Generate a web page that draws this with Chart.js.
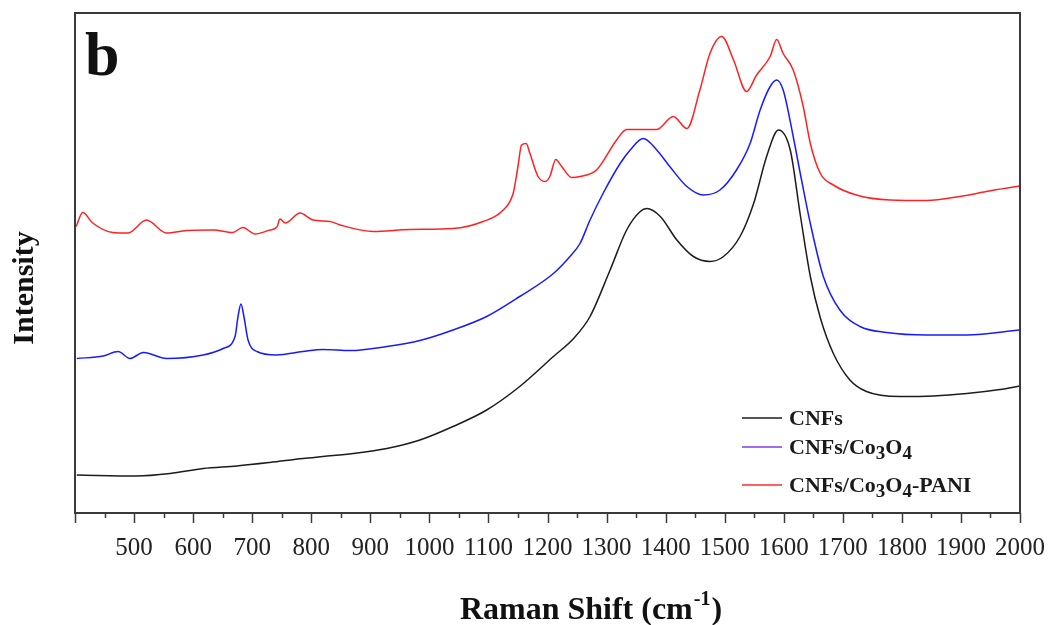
<!DOCTYPE html>
<html>
<head>
<meta charset="utf-8">
<script src="https://cdn.jsdelivr.net/npm/chart.js@4.4.1/dist/chart.umd.min.js"></script>
<style>
  body { margin: 0; background: #fff; }
  canvas { display: block; }
</style>
</head>
<body>
<canvas id="raman" width="1048" height="625"></canvas>
<script>
// Raman shift (cm-1) / intensity (a.u.)
const cnfShift = [403, 504, 561, 617, 674, 730, 786, 820, 871, 928, 984, 1040, 1097, 1153, 1210, 1245, 1272, 1306, 1334, 1357, 1368, 1391, 1419, 1447, 1475, 1498, 1526, 1549, 1571, 1591, 1611, 1628, 1645, 1662, 1684, 1712, 1740, 1797, 1853, 1910, 1966, 2000];
const cnfInt = [7.6, 7.4, 7.9, 8.9, 9.4, 10.1, 10.9, 11.3, 11.9, 12.9, 14.6, 17.3, 20.6, 25.3, 31.3, 35.0, 39.3, 48.6, 56.6, 60.3, 60.9, 59.3, 54.6, 51.3, 50.3, 51.3, 55.3, 61.9, 71.3, 76.6, 72.6, 59.6, 47.3, 39.0, 31.9, 26.6, 24.3, 23.3, 23.4, 23.9, 24.7, 25.4];

const coShift = [403, 448, 473, 493, 516, 555, 617, 651, 671, 676, 681, 686, 693, 708, 741, 786, 820, 866, 928, 984, 1040, 1097, 1153, 1210, 1238, 1255, 1272, 1294, 1323, 1340, 1362, 1385, 1407, 1436, 1464, 1492, 1520, 1543, 1560, 1577, 1588, 1599, 1616, 1628, 1645, 1667, 1695, 1729, 1774, 1842, 1910, 2000];
const coInt = [30.9, 31.4, 32.3, 30.9, 32.1, 30.9, 31.6, 32.9, 35.3, 39.3, 41.8, 39.3, 34.6, 32.3, 31.6, 32.3, 32.7, 32.5, 33.3, 34.5, 36.6, 39.3, 43.3, 47.9, 51.3, 53.9, 58.6, 63.9, 69.9, 72.6, 74.9, 72.6, 69.3, 65.3, 63.6, 64.6, 68.6, 73.9, 80.6, 85.3, 86.6, 84.6, 75.3, 67.9, 57.9, 47.3, 40.6, 37.3, 36.1, 35.6, 35.6, 36.6];

const paniShift = [402, 413, 430, 464, 490, 521, 555, 589, 634, 667, 684, 705, 730, 742, 747, 756, 781, 803, 832, 849, 905, 967, 1040, 1091, 1125, 1142, 1150, 1156, 1164, 1170, 1184, 1196, 1204, 1214, 1224, 1241, 1255, 1283, 1317, 1334, 1385, 1413, 1436, 1458, 1475, 1495, 1515, 1537, 1554, 1577, 1588, 1599, 1616, 1633, 1645, 1662, 1684, 1723, 1780, 1842, 1898, 1943, 2000];
const paniInt = [57.3, 60.1, 58.0, 56.1, 56.0, 58.6, 56.0, 56.5, 56.6, 56.1, 57.1, 55.8, 56.6, 57.2, 58.8, 58.0, 60.0, 58.6, 58.3, 57.6, 56.3, 56.7, 56.9, 58.3, 60.6, 64.0, 69.3, 73.6, 73.9, 72.0, 67.3, 66.3, 67.3, 70.7, 69.3, 67.1, 67.3, 68.6, 74.6, 76.7, 76.7, 79.3, 76.9, 84.6, 91.9, 95.3, 90.6, 84.3, 87.6, 91.3, 94.7, 91.9, 88.6, 81.3, 73.9, 67.9, 65.6, 63.6, 62.6, 62.5, 63.3, 64.3, 65.4];

const seriesNames = ["CNFs", "CNFs/Co3O4", "CNFs/Co3O4-PANI"];
const xTickMin = 400, xTickMax = 2000, xTickStep = 50;

const serif = '"Liberation Serif", "Times New Roman", serif';

function toPoints(xs, ys) {
  return xs.map((x, i) => ({ x: x, y: ys[i] }));
}

// frame, outward ticks (long major / short minor), panel letter, axis titles, legend
const decorations = {
  id: "decorations",
  afterDraw(chart) {
    const ctx = chart.ctx;
    const area = chart.chartArea;
    const xs = chart.scales.x;
    ctx.save();

    ctx.strokeStyle = "#3a3a3a";
    ctx.lineWidth = 2;
    ctx.strokeRect(area.left, area.top, area.right - area.left, area.bottom - area.top);

    ctx.lineWidth = 1.5;
    xs.ticks.forEach((t) => {
      const px = Math.round(xs.getPixelForValue(t.value)) + 0.5;
      const len = t.value % 100 === 0 ? 10 : 5;
      ctx.beginPath();
      ctx.moveTo(px, area.bottom);
      ctx.lineTo(px, area.bottom + len);
      ctx.stroke();
    });

    ctx.fillStyle = "#111";
    ctx.font = "bold 62px " + serif;
    ctx.textAlign = "left";
    ctx.textBaseline = "alphabetic";
    ctx.fillText("b", area.left + 10, area.top + 62);

    // x title with superscript
    ctx.font = "bold 32px " + serif;
    const t1 = "Raman Shift (cm";
    const w1 = ctx.measureText(t1).width;
    ctx.font = "bold 20px " + serif;
    const wSup = ctx.measureText("-1").width;
    ctx.font = "bold 32px " + serif;
    const w2 = ctx.measureText(")").width;
    let x0 = 590 - (w1 + wSup + w2) / 2;
    const base = 619;
    ctx.fillText(t1, x0, base);
    ctx.font = "bold 20px " + serif;
    ctx.fillText("-1", x0 + w1 + 1, base - 14);
    ctx.font = "bold 32px " + serif;
    ctx.fillText(")", x0 + w1 + wSup + 2, base);

    // y title
    ctx.save();
    ctx.translate(33, 288);
    ctx.rotate(-Math.PI / 2);
    ctx.font = "bold 30px " + serif;
    ctx.textAlign = "center";
    ctx.fillText("Intensity", 0, 0);
    ctx.restore();

    // legend (subscripts drawn by hand)
    const legendColors = ["#555555", "#a06cf0", "#ff6060"];
    const rows = [418, 447, 485];
    rows.forEach((y, i) => {
      ctx.strokeStyle = legendColors[i];
      ctx.lineWidth = 2;
      ctx.beginPath();
      ctx.moveTo(742, y);
      ctx.lineTo(782, y);
      ctx.stroke();
      let x = 789;
      const parts = seriesNames[i].match(/[A-Za-z\/\-]+|\d/g);
      parts.forEach((p) => {
        const sub = /\d/.test(p);
        ctx.font = sub ? "bold 19px " + serif : "bold 22px " + serif;
        ctx.fillStyle = "#1a1a1a";
        ctx.fillText(p, x, y + 7 + (sub ? 5 : 0));
        x += ctx.measureText(p).width;
      });
    });

    ctx.restore();
  },
};

new Chart(document.getElementById("raman"), {
  type: "line",
  data: {
    datasets: [
      { label: seriesNames[0], data: toPoints(cnfShift, cnfInt), borderColor: "#1c1c1c" },
      { label: seriesNames[1], data: toPoints(coShift, coInt), borderColor: "#1a1aff" },
      { label: seriesNames[2], data: toPoints(paniShift, paniInt), borderColor: "#ff2222" },
    ],
  },
  options: {
    responsive: false,
    animation: false,
    parsing: false,
    elements: {
      line: { borderWidth: 1.5, cubicInterpolationMode: "monotone" },
      point: { radius: 0 },
    },
    layout: { padding: 0 },
    plugins: { legend: { display: false }, tooltip: { enabled: false } },
    scales: {
      x: {
        type: "linear",
        min: xTickMin,
        max: xTickMax,
        border: { display: false },
        grid: { display: false, drawTicks: false },
        ticks: {
          stepSize: xTickStep,
          autoSkip: false,
          maxRotation: 0,
          padding: 20,
          color: "#222",
          font: { family: serif, size: 25 },
          callback: (v) => (v % 100 === 0 && v >= 500 ? String(v) : ""),
        },
        afterFit: (s) => {
          s.height = 112;
          s.paddingLeft = 0;
          s.paddingRight = 28;
        },
      },
      y: {
        min: 0,
        max: 100,
        border: { display: false },
        grid: { display: false, drawTicks: false },
        ticks: { display: false },
        afterFit: (s) => {
          s.width = 75;
          s.paddingTop = 13;
          s.paddingBottom = 0;
        },
      },
    },
  },
  plugins: [decorations],
});
</script>
</body>
</html>
